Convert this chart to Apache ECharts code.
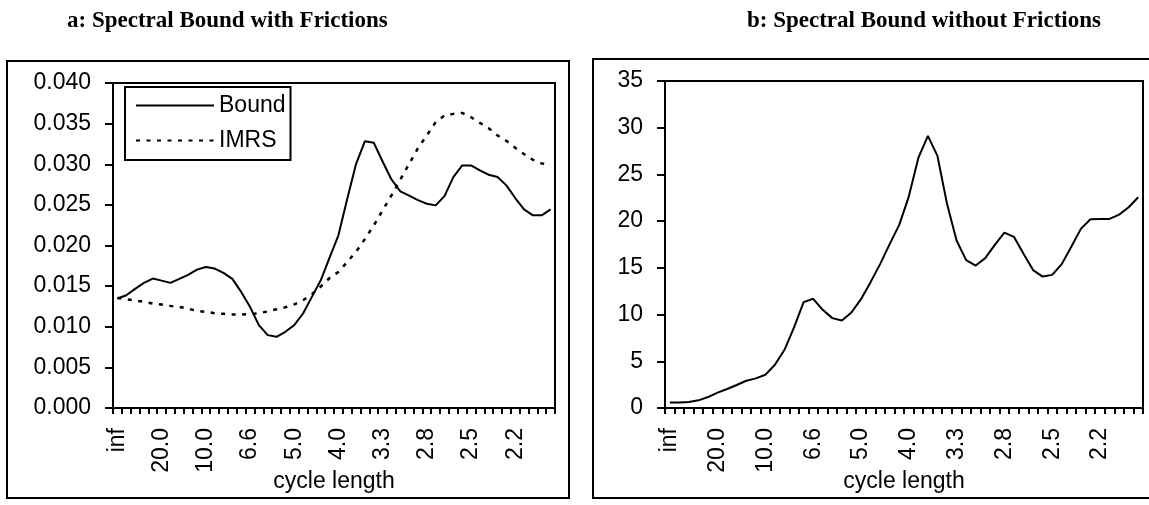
<!DOCTYPE html>
<html>
<head>
<meta charset="utf-8">
<script src="https://cdn.jsdelivr.net/npm/echarts@6/dist/echarts.min.js"></script>
<style>
  html, body { margin: 0; padding: 0; background: #fff; }
  #chart { width: 1149px; height: 505px; }
</style>
</head>
<body>
<div id="chart"></div>
<script>
// Cycle length (in periods) of each frequency on the horizontal axis
const cycleLengths = [
  'inf', '100.0', '50.0', '33.3', '25.0', '20.0', '16.6', '14.2', '12.5', '11.1',
  '10.0', '9.0', '8.3', '7.6', '7.1', '6.6', '6.2', '5.8', '5.5', '5.2',
  '5.0', '4.7', '4.5', '4.3', '4.1', '4.0', '3.8', '3.7', '3.5', '3.4',
  '3.3', '3.2', '3.1', '3.0', '2.9', '2.8', '2.7', '2.7', '2.6', '2.5',
  '2.5', '2.4', '2.3', '2.3', '2.2', '2.2', '2.1', '2.1', '2.0', '2.0'
];

// Panel a: spectral bound with frictions, and the IMRS
const boundWithFrictions = [
  0.01348, 0.01388, 0.01466, 0.01540, 0.01593, 0.01568, 0.01540, 0.01589, 0.01638, 0.01703,
  0.01736, 0.01716, 0.01663, 0.01589, 0.01429, 0.01245, 0.01020, 0.00897, 0.00876, 0.00938,
  0.01020, 0.01163, 0.01368, 0.01572, 0.01850, 0.02125, 0.02576, 0.03006, 0.03284, 0.03264,
  0.03034, 0.02813, 0.02666, 0.02613, 0.02559, 0.02514, 0.02494, 0.02608, 0.02842, 0.02985,
  0.02985, 0.02924, 0.02871, 0.02842, 0.02740, 0.02584, 0.02445, 0.02371, 0.02371, 0.02445
];
const imrs = [
  0.01355, 0.01339, 0.01323, 0.01306, 0.01286, 0.01274, 0.01257, 0.01245, 0.01220, 0.01196,
  0.01183, 0.01167, 0.01159, 0.01151, 0.01151, 0.01155, 0.01167, 0.01188, 0.01216, 0.01240,
  0.01275, 0.01327, 0.01400, 0.01495, 0.01600, 0.01675, 0.01798, 0.01925, 0.02080, 0.02248,
  0.02432, 0.02617, 0.02810, 0.03006, 0.03198, 0.03354, 0.03518, 0.03600, 0.03620, 0.03632,
  0.03579, 0.03510, 0.03444, 0.03354, 0.03288, 0.03202, 0.03125, 0.03055, 0.03010, 0.02993
];

// Panel b: spectral bound without frictions
const boundWithoutFrictions = [
  0.60, 0.60, 0.65, 0.82, 1.17, 1.64, 2.03, 2.46, 2.92, 3.17,
  3.56, 4.63, 6.23, 8.62, 11.33, 11.69, 10.51, 9.62, 9.37, 10.22,
  11.65, 13.47, 15.40, 17.54, 19.60, 22.63, 26.77, 29.12, 26.98, 21.85,
  17.93, 15.83, 15.25, 16.04, 17.46, 18.78, 18.32, 16.50, 14.76, 14.07,
  14.25, 15.40, 17.25, 19.17, 20.21, 20.24, 20.24, 20.70, 21.49, 22.56
];

const titles = ['a: Spectral Bound with Frictions', 'b: Spectral Bound without Frictions'];
const seriesNames = ['Bound', 'IMRS'];

const FONT = 'Liberation Sans, Arial, sans-serif';
const SERIF = 'Liberation Serif, Times New Roman, serif';
const FS = 23;

function xAxisFor(gridIndex) {
  return {
    type: 'category',
    gridIndex: gridIndex,
    data: cycleLengths,
    boundaryGap: true,
    name: 'cycle length',
    nameLocation: 'middle',
    nameGap: 62,
    nameMoveOverlap: false,
    nameTextStyle: { fontFamily: FONT, fontSize: FS, color: '#000' },
    axisLine: { lineStyle: { color: '#000', width: 2 } },
    axisTick: { show: true, interval: 0, length: 6, lineStyle: { color: '#000', width: 2 } },
    axisLabel: {
      interval: 4, rotate: 90, margin: 20,
      fontFamily: FONT, fontSize: FS, color: '#000'
    },
    splitLine: { show: false }
  };
}

function yAxisFor(gridIndex, max, interval, decimals) {
  return {
    type: 'value',
    gridIndex: gridIndex,
    min: 0, max: max, interval: interval,
    axisLine: { show: true, lineStyle: { color: '#000', width: 2 } },
    axisTick: { show: true, length: 8, lineStyle: { color: '#000', width: 2 } },
    axisLabel: {
      margin: 22, fontFamily: FONT, fontSize: FS, color: '#000',
      formatter: v => v.toFixed(decimals)
    },
    splitLine: { show: false }
  };
}

const chart = echarts.init(document.getElementById('chart'), null, { renderer: 'canvas' });

chart.setOption({
  backgroundColor: '#fff',
  animation: false,
  title: [
    { text: titles[0], left: 62, top: 5,
      textStyle: { fontFamily: SERIF, fontSize: 23, fontWeight: 'bold', color: '#000' } },
    { text: titles[1], left: 742, top: 5,
      textStyle: { fontFamily: SERIF, fontSize: 23, fontWeight: 'bold', color: '#000' } }
  ],
  graphic: [
    { type: 'rect', shape: { x: 7, y: 61, width: 562, height: 437 },
      style: { fill: 'none', stroke: '#000', lineWidth: 2 }, z: -1 },
    { type: 'rect', shape: { x: 593, y: 59, width: 620, height: 439 },
      style: { fill: 'none', stroke: '#000', lineWidth: 2 }, z: -1 }
  ],
  legend: {
    data: seriesNames,
    orient: 'vertical',
    left: 125, top: 87,
    padding: [7, 5, 8, 10],
    itemGap: 12,
    itemWidth: 78,
    itemHeight: 23,
    itemTextGap: 9,
    itemStyle: { opacity: 0 },
    backgroundColor: '#fff',
    borderColor: '#000',
    borderWidth: 2,
    borderRadius: 0,
    textStyle: { fontFamily: FONT, fontSize: FS, color: '#000' }
  },
  grid: [
    { left: 113, top: 83, width: 442, height: 325, show: true, borderColor: '#000', borderWidth: 2, backgroundColor: 'transparent' },
    { left: 665, top: 81, width: 478, height: 327, show: true, borderColor: '#000', borderWidth: 2, backgroundColor: 'transparent' }
  ],
  xAxis: [xAxisFor(0), xAxisFor(1)],
  yAxis: [yAxisFor(0, 0.04, 0.005, 3), yAxisFor(1, 35, 5, 0)],
  series: [
    { name: seriesNames[0], type: 'line', xAxisIndex: 0, yAxisIndex: 0,
      data: boundWithFrictions, symbol: 'none',
      lineStyle: { color: '#000', width: 2, type: 'solid' }, itemStyle: { color: '#000' } },
    { name: seriesNames[1], type: 'line', xAxisIndex: 0, yAxisIndex: 0,
      data: imrs, symbol: 'none',
      lineStyle: { color: '#000', width: 2.5, type: [4, 6.5] }, itemStyle: { color: '#000' } },
    { name: 'bound-no-frictions', type: 'line', xAxisIndex: 1, yAxisIndex: 1,
      data: boundWithoutFrictions, symbol: 'none',
      lineStyle: { color: '#000', width: 2 }, itemStyle: { color: '#000' } }
  ]
});
</script>
</body>
</html>
